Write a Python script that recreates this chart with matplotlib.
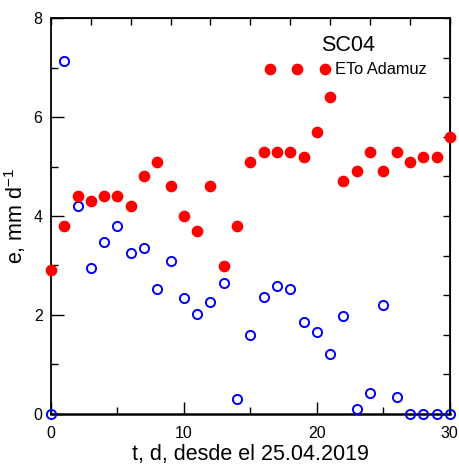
import numpy as np
import matplotlib
matplotlib.use("Agg")
import matplotlib.pyplot as plt

plt.rcParams['font.family'] = ['Liberation Sans', 'DejaVu Sans']
plt.rcParams['mathtext.fontset'] = 'custom'
plt.rcParams['mathtext.rm'] = 'Liberation Sans'
plt.rcParams['mathtext.it'] = 'Liberation Sans'

days = np.arange(0, 31)

eto_adamuz = [2.9, 3.8, 4.4, 4.3, 4.4, 4.4, 4.2, 4.8, 5.1, 4.6,
              4.0, 3.7, 4.6, 2.98, 3.8, 5.1, 5.3, 5.3, 5.3, 5.2,
              5.7, 6.4, 4.7, 4.9, 5.3, 4.9, 5.3, 5.1, 5.2, 5.2, 5.6]

e_sc04 = [0.0, 7.14, 4.2, 2.94, 3.47, 3.8, 3.25, 3.35, 2.53, 3.09,
          2.34, 2.02, 2.26, 2.65, 0.3, 1.6, 2.36, 2.58, 2.53, 1.86,
          1.66, 1.22, 1.97, 0.1, 0.42, 2.2, 0.34, 0.0, 0.0, 0.0, 0.0]

fig = plt.figure(figsize=(4.59, 4.65), dpi=100)
ax = fig.add_axes([0.111, 0.110, 0.869, 0.851])

ax.plot(days, e_sc04, 'o', ms=6.6, mfc='none', mec='#0000ff', mew=1.4,
        clip_on=False, zorder=3)
ax.plot(days, eto_adamuz, 'o', ms=7.4, color='#ff0000', mec='#ff0000',
        clip_on=False, zorder=4, label='ETo Adamuz')

ax.set_xlim(0, 30)
ax.set_ylim(0, 8)
ax.set_xticks([0, 10, 20, 30])
ax.set_xticks([5, 15, 25], minor=True)
ax.set_yticks([0, 2, 4, 6, 8])
ax.set_yticks([1, 3, 5, 7], minor=True)
ax.tick_params(which='major', direction='in', length=9, width=1, labelsize=11.5, pad=6)
ax.tick_params(axis='x', which='major', pad=9)
ax.tick_params(which='minor', direction='in', length=5, width=1)

for s in ax.spines.values():
    s.set_linewidth(1.3)
ax.spines['bottom'].set_linewidth(1.8)

top = ax.secondary_xaxis('top')
top.set_xticks(np.arange(0, 31, 3))
top.set_xticklabels([])
top.tick_params(direction='in', length=5, width=1)
right = ax.secondary_yaxis('right')
right.set_yticks(np.arange(0, 8.01, 0.8))
right.set_yticklabels([])
right.tick_params(direction='in', length=5, width=1)

ax.set_xlabel('t, d, desde el 25.04.2019', fontsize=15.5, labelpad=2)
ax.set_ylabel('e, mm d$^{-1}$', fontsize=15.5, labelpad=4)

ax.text(0.745, 0.93, 'SC04', transform=ax.transAxes, fontsize=15.5,
        ha='center', va='center')
ax.legend(loc='upper right', bbox_to_anchor=(0.958, 0.905), frameon=False,
          numpoints=3, handlelength=3.95, handletextpad=0.3, fontsize=11.8,
          borderaxespad=0)

fig.savefig('out.png', dpi=100)
